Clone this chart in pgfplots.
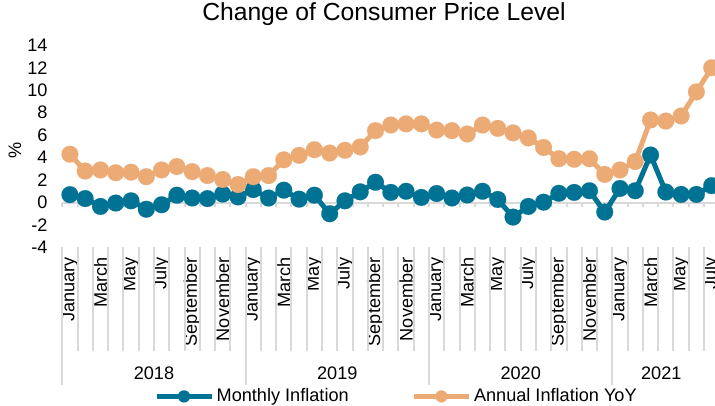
\documentclass[border=0pt]{standalone}
\usepackage{pgfplots}
\pgfplotsset{compat=1.18}
\usepackage{pgfplotstable}
\usepackage{fontspec}
\setmainfont{Liberation Sans}
\definecolor{tealc}{RGB}{0,114,148}
\definecolor{orngc}{RGB}{236,170,117}
\definecolor{sepc}{RGB}{217,217,217}
\pgfplotstableread{
i m a
0 0.70 4.30
1 0.35 2.80
2 -0.35 2.90
3 -0.05 2.65
4 0.15 2.70
5 -0.60 2.30
6 -0.20 2.90
7 0.65 3.20
8 0.40 2.75
9 0.35 2.40
10 0.75 2.05
11 0.50 1.60
12 1.15 2.30
13 0.40 2.40
14 1.10 3.80
15 0.30 4.20
16 0.65 4.70
17 -1.00 4.40
18 0.15 4.65
19 0.95 4.95
20 1.80 6.40
21 0.90 6.90
22 1.00 7.00
23 0.45 7.00
24 0.80 6.45
25 0.40 6.40
26 0.67 6.10
27 1.00 6.90
28 0.27 6.60
29 -1.30 6.20
30 -0.35 5.75
31 0.03 4.90
32 0.82 3.90
33 0.90 3.85
34 1.05 3.90
35 -0.85 2.50
36 1.25 2.90
37 1.05 3.65
38 4.23 7.35
39 0.93 7.25
40 0.72 7.70
41 0.72 9.85
42 1.50 12.00
}\datatable
\newcommand{\fs}{\fontsize{13.6}{16}\selectfont}
\begin{document}
\begin{tikzpicture}
\begin{axis}[
  scale only axis, width=492.75pt, height=151.6pt,
  xmin=-0.5, xmax=42.5, ymin=-4, ymax=14,
  clip=false,
  axis line style={draw=none},
  major tick length=0pt, tick style={draw=none},
  ytick={-4,-2,...,14},
  yticklabel style={font=\fs, /pgf/number format/assume math mode=true, xshift=-7.5pt},
  xtick={0,2,...,42},
  xticklabels={January,March,May,July,September,November,January,March,May,July,September,November,January,March,May,July,September,November,January,March,May,July},
  xticklabel style={font=\fs, rotate=90, anchor=east},
  xticklabel shift=4pt,
  ylabel={\%},
  ylabel style={font=\fs, at={(axis description cs:-0.072,0.48)}, anchor=center},
  title={Change of Consumer Price Level},
  title style={font=\fontsize{18.5}{22}\selectfont, at={(axis description cs:0.4896,1.115)}, anchor=center},
  extra y ticks={0}, extra y tick labels={},
  extra y tick style={grid=major, major grid style={sepc, line width=1.5pt}},
  legend style={at={(axis description cs:0.509,-0.737)}, anchor=center, draw=none, fill=none,
    legend columns=2, font=\fs,
    /tikz/every even column/.append style={column sep=45pt}},
  legend image code/.code={\draw[#1, mark size=4.5pt, mark repeat=2, mark phase=2] plot coordinates {(0pt,0pt) (20.6pt,0pt) (41.2pt,0pt)};},
]
\pgfplotsinvokeforeach{0,...,43}{\draw[sepc, line width=1.5pt] (axis cs:#1-0.5,0) -- ++(0pt,-3pt);}
\pgfplotsinvokeforeach{0,...,43}{\draw[sepc, line width=1.5pt] (axis cs:#1-0.5,-4) -- ++(0pt,-78pt);}
\pgfplotsinvokeforeach{0,12,24,36}{\draw[sepc, line width=1.5pt] (axis cs:#1-0.5,-4) -- ++(0pt,-103.5pt);}
\addplot[tealc, line width=3.75pt, mark=*, mark size=6.3pt, mark options={solid, fill=tealc, draw=tealc, line width=0.1pt}] table[x=i,y=m] {\datatable};
\addplot[orngc, line width=3.75pt, mark=*, mark size=6.3pt, mark options={solid, fill=orngc, draw=orngc, line width=0.1pt}] table[x=i,y=a] {\datatable};
\legend{Monthly Inflation, Annual Inflation YoY}
\node[font=\fs] at (axis cs:5.5,-4) [yshift=-94.5pt] {2018};
\node[font=\fs] at (axis cs:17.5,-4) [yshift=-94.5pt] {2019};
\node[font=\fs] at (axis cs:29.5,-4) [yshift=-94.5pt] {2020};
\node[font=\fs] at (axis cs:38.7,-4) [yshift=-94.5pt] {2021};
\end{axis}
\pgfresetboundingbox
\useasboundingbox (-46.7pt,-118.2pt) rectangle (489.5pt,185.55pt);
\end{tikzpicture}
\end{document}
